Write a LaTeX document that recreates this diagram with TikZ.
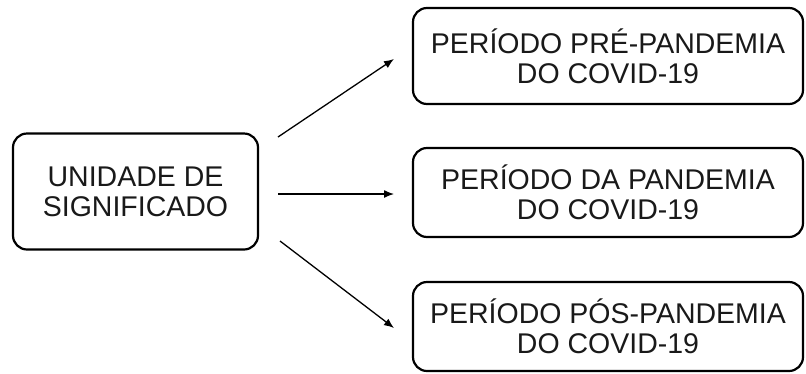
\documentclass[tikz,border=0pt]{standalone}
\usepackage{fontspec}
\setmainfont{Liberation Sans}
\usetikzlibrary{arrows.meta}
\begin{document}
\begin{tikzpicture}[x=1pt,y=-1pt,
  box/.style={draw=black, line width=2.2pt, rounded corners=14pt, inner sep=0pt,
    align=center, font=\fontsize{28.5}{30}\selectfont, text=black!90},
  conn/.style={line width=1.3pt, -{Latex[length=10pt,width=8pt]}}]
\useasboundingbox (0,0) rectangle (806,373);
\node[box, minimum width=245pt, minimum height=116pt] (u) at (135.5,191.5) {UNIDADE DE\\SIGNIFICADO};
\node[box, minimum width=390pt, minimum height=96pt] (p1) at (608,56) {PERÍODO PRÉ-PANDEMIA\\DO COVID-19};
\node[box, minimum width=390pt, minimum height=89pt] (p2) at (608,192.5) {PERÍODO DA PANDEMIA\\DO COVID-19};
\node[box, minimum width=390pt, minimum height=89pt] (p3) at (608,326.5) {PERÍODO PÓS-PANDEMIA\\DO COVID-19};
\coordinate (s1) at (278,137);
\coordinate (e1) at (394,59);
\coordinate (s2) at (278,194);
\coordinate (e2) at (394,194);
\coordinate (s3) at (280,241);
\coordinate (e3) at (394,328);
\draw[conn] (s1) -- (e1);
\draw[conn] (s2) -- (e2);
\draw[conn] (s3) -- (e3);
\end{tikzpicture}
\end{document}
